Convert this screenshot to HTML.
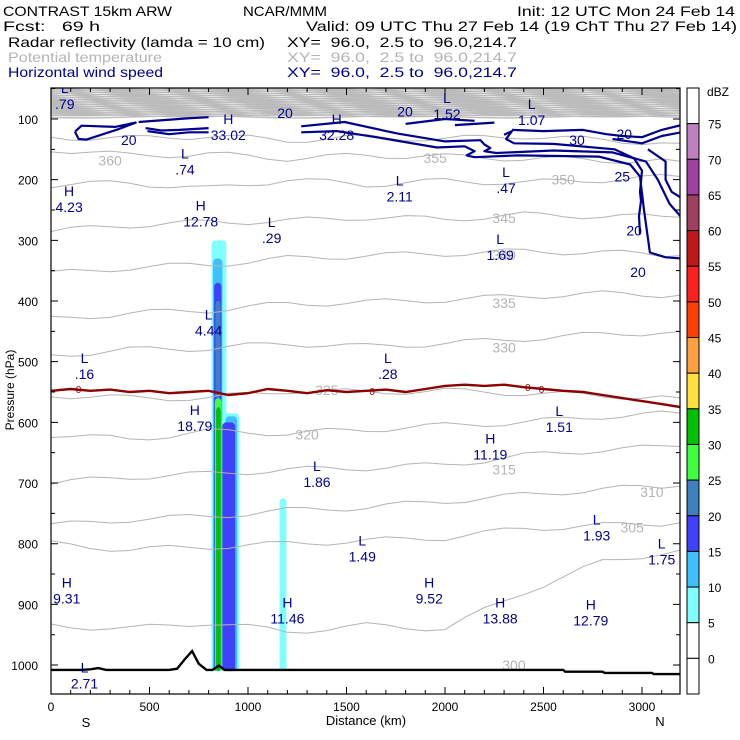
<!DOCTYPE html>
<html><head><meta charset="utf-8"><style>
html,body{margin:0;padding:0;background:#fff;}
svg{display:block;font-family:"Liberation Sans",sans-serif;}
</style></head><body>
<svg id="c" width="740" height="740" viewBox="0 0 740 740" xmlns="http://www.w3.org/2000/svg">
<g font-size="14">
<text x="3" y="16" textLength="169" lengthAdjust="spacingAndGlyphs">CONTRAST 15km ARW</text>
<text x="243" y="16" textLength="84" lengthAdjust="spacingAndGlyphs">NCAR/MMM</text>
<text x="517" y="16" textLength="218" lengthAdjust="spacingAndGlyphs">Init: 12 UTC Mon 24 Feb 14</text>
<text x="3" y="31" textLength="97" lengthAdjust="spacingAndGlyphs" xml:space="preserve">Fcst:   69 h</text>
<text x="306" y="31" textLength="431" lengthAdjust="spacingAndGlyphs">Valid: 09 UTC Thu 27 Feb 14 (19 ChT Thu 27 Feb 14)</text>
<text x="8" y="47" textLength="257" lengthAdjust="spacingAndGlyphs">Radar reflectivity (lamda = 10 cm)</text>
<text x="287" y="47" textLength="230" lengthAdjust="spacingAndGlyphs" xml:space="preserve">XY=  96.0,  2.5 to  96.0,214.7</text>
<text x="8" y="62" textLength="154" lengthAdjust="spacingAndGlyphs" fill="#b4b4b4">Potential temperature</text>
<text x="287" y="62" textLength="230" lengthAdjust="spacingAndGlyphs" fill="#b4b4b4" xml:space="preserve">XY=  96.0,  2.5 to  96.0,214.7</text>
<text x="8" y="77" textLength="155" lengthAdjust="spacingAndGlyphs" fill="#00008c">Horizontal wind speed</text>
<text x="287" y="77" textLength="230" lengthAdjust="spacingAndGlyphs" fill="#00008c" xml:space="preserve">XY=  96.0,  2.5 to  96.0,214.7</text>
</g>
<defs><clipPath id="pc"><rect x="51" y="88" width="629" height="606"/></clipPath></defs>
<g id="plot" clip-path="url(#pc)"></g>
<g id="axes"></g>
<g id="cbar"></g>
</svg>
<script>
// ---- data ----
const xTicks=[0,500,1000,1500,2000,2500,3000];
const yTicks=[100,200,300,400,500,600,700,800,900,1000];
const cbLevels=[75,70,65,60,55,50,45,40,35,30,25,20,15,10,5,0];
const cbColors=["#fff","#c080c0","#a040a0","#a04060","#c01818","#ff2020","#ff4000","#ffa040","#ffe040","#00c000","#40ff40","#4080c0","#4040ff","#40c0ff","#80ffff","#fff","#fff"];
// reflectivity columns: [kmLeft, kmRight, pTop, pBottom, colorIndex]
const reflCols=[[815,890,300,1010,14],[830,955,585,1010,14],[822,870,330,1010,13],[885,945,590,1010,13],[828,865,370,1010,12],[870,935,600,1010,12],[835,860,400,560,11],[832,865,560,1010,10],[838,862,575,1010,9],[1160,1195,725,1010,14]];
// isentropes: values and pressure at km 0,400,...,3200
const thetaVals=[360,355,350,345,340,335,330,325,320,315,310,305,300];
const thetaP=[
[130,132,128,135,130,133,128,135,140],
[150,160,158,165,160,162,165,168,170],
[209,205,215,200,208,202,205,200,195],
[285,275,270,268,262,265,258,260,262],
[355,345,340,330,325,322,318,320,325],
[430,420,415,405,402,398,392,388,390],
[490,480,478,470,475,470,462,455,450],
[555,560,560,548,550,548,552,556,560],
[620,628,615,618,612,605,600,590,585],
[700,690,685,678,675,670,655,645,640],
[770,760,755,745,740,730,720,710,705],
[800,810,805,800,795,790,775,770,765],
[935,940,930,945,935,940,880,830,810]];
const thetaLbl=[[300,168],[1950,164],[2600,200],[2300,263],[2300,324],[2300,403],[2300,477],[1400,547],[1300,620],[2300,678],[3050,715],[2950,773],[2350,1000]];
// freezing level pressure at km 0,100,...,3200
const frzP=[548,545,548,546,550,548,552,550,548,555,552,545,548,552,547,550,548,546,550,545,540,538,540,538,542,545,548,550,555,560,565,570,575];
// terrain pressure at km
const terrKm=[0,150,200,240,280,330,600,640,680,716,750,790,820,853,880,1000,2000,2600,2610,2800,2810,3050,3060,3200];
const terrP=[1008,1008,1007,1005,1008,1008,1008,1006,990,977,998,1008,1008,1001,1008,1008,1008,1008,1011,1011,1013,1013,1015,1015];
// wind contours [km,hPa]
const windC=[
[[122,121],[155,111],[325,113],[430,106],[340,117],[180,134],[140,133],[122,121]],
[[445,105],[690,99],[800,97]],
[[480,115],[560,119],[650,118],[800,115]],
[[490,120],[600,125],[700,122],[800,122]],
[[1270,122],[1450,120],[1650,130],[1960,147],[2100,145],[2150,153],[2110,160],[2150,163],[2370,160],[2780,162],[2940,175],[2990,195],[3010,250],[3040,320],[3120,328],[3200,330]],
[[1270,112],[1490,105],[1760,124],[2000,137],[2180,135],[2200,142],[2230,148],[2200,153],[2260,156],[2550,152],[2850,155],[3020,170],[3080,200],[3140,240],[3200,262]],
[[2300,126],[2340,120],[2310,133],[2350,140],[2550,141],[2860,150],[2960,165],[3000,185],[2990,220],[2995,235],[2985,260],[2990,290]],
[[2340,118],[2500,120],[2700,118],[2820,125],[2900,128],[3000,130],[3100,118],[3200,110]],
[[2850,133],[3000,140],[3100,128],[3200,122]],
[[3030,150],[3120,170],[3120,200],[3150,220],[3200,230]],
[[1800,108],[2000,100],[2150,103]],
[[2050,110],[2150,108],[2250,106]]];
const windLbl=[["20",395,135],["20",1188,90],["20",1797,88],["30",2670,135],["20",2910,125],["25",2900,195],["20",2960,284],["20",2980,352]];
const hl=[["L",".79",70,77],["H","33.02",900,128],["H","32.28",1450,128],["L","1.52",2010,93],["L","1.07",2440,103],["L",".74",680,185],["L","2.11",1770,229],["L",".47",2310,215],["H","4.23",92,247],["H","12.78",760,271],["L",".29",1120,298],["L","1.69",2280,326],["L","4.44",800,450],["L",".16",170,522],["L",".28",1710,522],["H","18.79",730,608],["L","1.51",2580,609],["H","11.19",2230,655],["L","1.86",1350,700],["L","1.93",2770,788],["L","1.49",1580,823],["L","1.75",3100,828],["H","9.31",80,892],["H","9.52",1920,892],["H","11.46",1200,925],["H","13.88",2280,925],["H","12.79",2740,928],["L","2.71",170,1032]];
// ---- scales ----
const X=k=>51+k*0.197, Y=p=>119+(p-100)*0.6067;
const NS="http://www.w3.org/2000/svg";
function mk(tag,parent,attrs){const e=document.createElementNS(NS,tag);for(const k in attrs)e.setAttribute(k,attrs[k]);parent.appendChild(e);return e;}
const plot=document.getElementById('plot'),axes=document.getElementById('axes'),cb=document.getElementById('cbar');
// dense top band
for(let p=46;p<=98;p+=1.8){const pts=[];for(let k=0;k<=3200;k+=100)pts.push(X(k)+','+Y(p+Math.sin(k/170+p*1.7)*1.8).toFixed(1));
const e=mk('polyline',plot,{points:pts.join(' '),fill:'none',stroke:'#bbb','stroke-width':1.4});

}
// reflectivity
reflCols.forEach(c=>{const e=mk('rect',plot,{x:X(c[0]),y:Y(c[2]),width:X(c[1])-X(c[0]),height:Y(c[3])-Y(c[2]),rx:4,fill:cbColors[c[4]]});

});
// isentropes
thetaP.forEach((row,i)=>{const pts=[];for(let j=0;j<row.length-1;j++){for(let s=0;s<4;s++){const k=j*400+s*100;const p=row[j]+(row[j+1]-row[j])*s/4+Math.sin(k/90+i)*5;pts.push(X(k).toFixed(1)+','+Y(p).toFixed(1));}}pts.push(X(3200)+','+Y(row[row.length-1]));
const e=mk('polyline',plot,{points:pts.join(' '),fill:'none',stroke:'#b4b4b4','stroke-width':1});


const l=thetaLbl[i];const t=mk('text',plot,{x:X(l[0]),y:Y(l[1])+5,fill:'#b4b4b4','font-size':14,'text-anchor':'middle'});t.textContent=thetaVals[i];

});
// wind contours
windC.forEach(c=>{const e=mk('polyline',plot,{points:c.map(q=>X(q[0]).toFixed(1)+','+Y(q[1]).toFixed(1)).join(' '),fill:'none',stroke:'#00008c','stroke-width':2.2,'stroke-linejoin':'round'});

});
windLbl.forEach(l=>{const t=mk('text',plot,{x:X(l[1]),y:Y(l[2])+5,fill:'#00008c','font-size':14,'text-anchor':'middle'});t.textContent=l[0];

});
// freezing level
{const e=mk('polyline',plot,{points:frzP.map((p,i)=>X(i*100).toFixed(1)+','+Y(p).toFixed(1)).join(' '),fill:'none',stroke:'#8b0000','stroke-width':2.4});


[140,1630,2420,2490].forEach(k=>{const t=mk('text',plot,{x:X(k),y:Y(frzP[Math.round(k/100)])+4,fill:'#8b0000','font-size':10,'text-anchor':'middle'});t.textContent='0';

});}
// terrain
{const e=mk('polyline',plot,{points:terrKm.map((k,i)=>X(k).toFixed(1)+','+Y(terrP[i]).toFixed(1)).join(' '),fill:'none',stroke:'#000','stroke-width':2.4});

}
// H/L labels
hl.forEach(h=>{const a=mk('text',plot,{x:X(h[2]),y:Y(h[3])-12,fill:'#00008c','font-size':14,'text-anchor':'middle'});a.textContent=h[0];


const b=mk('text',plot,{x:X(h[2]),y:Y(h[3])+4,fill:'#00008c','font-size':14,'text-anchor':'middle'});b.textContent=h[1];

});
// frame & ticks
{const r=mk('rect',axes,{x:51,y:88,width:629,height:606,fill:'none',stroke:'#000','stroke-width':1.2});

}
let tp='';
for(let k=0;k<=3100;k+=100){const L=k%500===0?7:4;tp+=`M${X(k)},694v-${L}M${X(k)},88v${L}`;}
for(let p=50;p<=1000;p+=50){const L=p%100===0?7:4;tp+=`M51,${Y(p)}h${L}M680,${Y(p)}h-${L}`;}
{const e=mk('path',axes,{d:tp,stroke:'#000','stroke-width':1,fill:'none'});

}
xTicks.forEach(k=>{const t=mk('text',axes,{x:X(k),y:711,'font-size':12,'text-anchor':'middle'});t.textContent=k;

});
yTicks.forEach(p=>{const t=mk('text',axes,{x:38,y:Y(p)+5,'font-size':12,'text-anchor':'end'});t.textContent=p;

});
[["S",86,727,'s-label'],["Distance (km)",366,725,'x-axis-title'],["N",660,726,'n-label']].forEach(a=>{const t=mk('text',axes,{x:a[1],y:a[2],'font-size':13,'text-anchor':'middle'});t.textContent=a[0];

});
{const t=mk('text',axes,{x:0,y:0,'font-size':12,'text-anchor':'middle',transform:'translate(14,390) rotate(-90)'});t.textContent='Pressure (hPa)';

}
// colorbar
const bh=606/17;
cbColors.forEach((c,i)=>{const r=mk('rect',cb,{x:687,y:88+i*bh,width:12,height:bh,fill:c,stroke:'#000','stroke-width':1});

});
{const t=mk('text',cb,{x:707,y:96,'font-size':12});t.textContent='dBZ';

}
cbLevels.forEach((v,i)=>{const t=mk('text',cb,{x:708,y:88+(i+1)*bh+5,'font-size':12});t.textContent=v;

});
</script>
</body></html>
